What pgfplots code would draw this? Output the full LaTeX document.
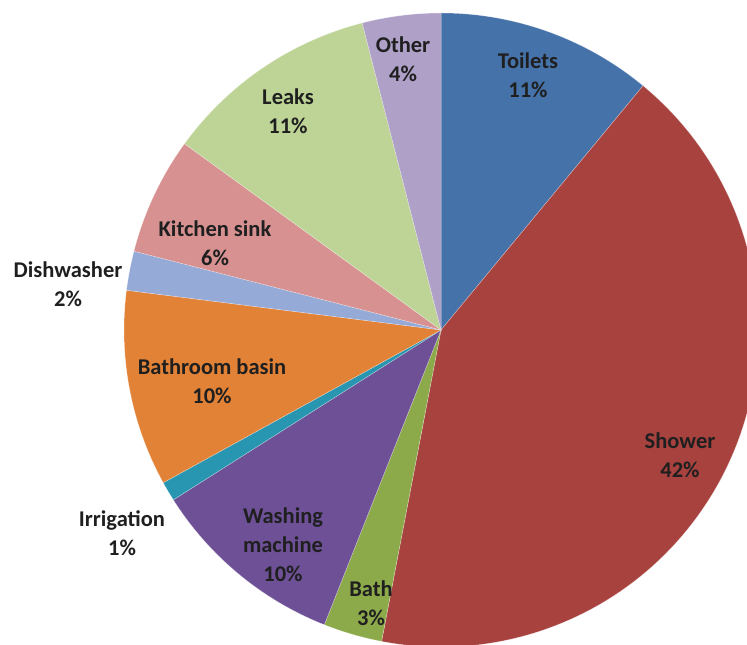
\documentclass[border=0pt]{standalone}
\usepackage{pgfplots}
\usepackage{pgfplotstable}
\pgfplotsset{compat=1.18}
\usepackage{fontspec}
\setmainfont{Carlito}
\definecolor{cToilets}{HTML}{4672AA}
\definecolor{cShower}{HTML}{A8423F}
\definecolor{cBath}{HTML}{8DAA4B}
\definecolor{cWash}{HTML}{6E5096}
\definecolor{cIrr}{HTML}{2896B0}
\definecolor{cBasin}{HTML}{E28237}
\definecolor{cDish}{HTML}{96AAD7}
\definecolor{cSink}{HTML}{D79191}
\definecolor{cLeaks}{HTML}{BED496}
\definecolor{cOther}{HTML}{AFA0C8}
\pgfplotstableread{
value color
11 cToilets
42 cShower
3 cBath
10 cWash
1 cIrr
10 cBasin
2 cDish
6 cSink
11 cLeaks
4 cOther
}\piedata
\begin{document}
\begin{tikzpicture}
\begin{axis}[width=747pt,height=645pt,scale only axis,
  xmin=0,xmax=747,ymin=0,ymax=645,hide axis,clip=true]
\pgfplotstablegetrowsof{\piedata}
\pgfmathtruncatemacro\N{\pgfplotsretval-1}
\gdef\cum{90}
\pgfplotsforeachungrouped \i in {0,...,\N}{%
  \pgfplotstablegetelem{\i}{value}\of\piedata \let\v\pgfplotsretval
  \pgfplotstablegetelem{\i}{color}\of\piedata \let\c\pgfplotsretval
  \pgfmathsetmacro\newcum{\cum-3.6*\v}%
  \edef\temp{\noexpand\fill[\c, draw=white, draw opacity=0.4, line width=0.5pt] (axis cs:441,315) -- ++(\cum:317pt) arc[start angle=\cum, end angle=\newcum, radius=317pt] -- cycle;}%
  \temp
  \global\let\cum\newcum
}
\tikzset{lab/.style={align=center, font=\fontsize{22.5}{29}\selectfont\bfseries, text=black!88}}
\node[lab] at (axis cs:403,586) {Other\\4\%};
\node[lab] at (axis cs:528,570) {Toilets\\11\%};
\node[lab] at (axis cs:288,534) {Leaks\\11\%};
\node[lab] at (axis cs:215,402) {Kitchen sink\\6\%};
\node[lab] at (axis cs:68,361) {Dishwasher\\2\%};
\node[lab] at (axis cs:212,264) {Bathroom basin\\10\%};
\node[lab] at (axis cs:122,112) {Irrigation\\1\%};
\node[lab] at (axis cs:283,100) {Washing\\machine\\10\%};
\node[lab] at (axis cs:371,42) {Bath\\3\%};
\node[lab] at (axis cs:680,190) {Shower\\42\%};
\end{axis}
\pgfresetboundingbox
\useasboundingbox (current axis.south west) rectangle (current axis.north east);
\end{tikzpicture}
\end{document}
